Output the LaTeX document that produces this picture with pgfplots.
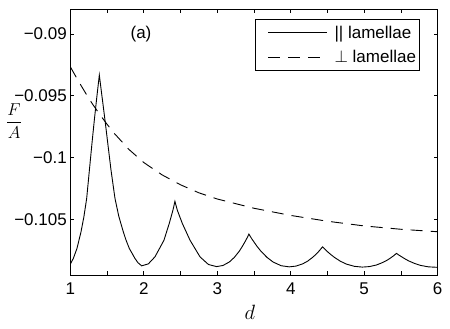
\documentclass[border=0pt]{standalone}
\usepackage{fontspec}
\setmainfont{Liberation Sans}
\usepackage{pgfplots}
\pgfplotsset{compat=1.18}
\usepackage{pgfplotstable}

% parallel lamellae: free energy per area vs film thickness d
\pgfplotstableread{
d F
1.000 -0.10862
1.041 -0.10816
1.091 -0.10735
1.146 -0.10600
1.185 -0.10479
1.223 -0.10330
1.260 -0.10100
1.295 -0.09885
1.327 -0.09696
1.360 -0.09515
1.395 -0.09332
1.430 -0.09498
1.472 -0.09696
1.510 -0.09884
1.554 -0.10101
1.608 -0.10330
1.660 -0.10475
1.721 -0.10600
1.760 -0.10670
1.803 -0.10735
1.880 -0.10816
1.920 -0.10850
1.971 -0.10876
2.062 -0.10860
2.152 -0.10803
2.220 -0.10729
2.275 -0.10668
2.347 -0.10532
2.397 -0.10425
2.424 -0.10354
2.456 -0.10425
2.524 -0.10532
2.629 -0.10668
2.765 -0.10803
2.880 -0.10865
2.990 -0.10882
3.078 -0.10873
3.166 -0.10844
3.233 -0.10807
3.299 -0.10758
3.343 -0.10717
3.387 -0.10671
3.409 -0.10646
3.431 -0.10619
3.458 -0.10646
3.486 -0.10671
3.541 -0.10718
3.596 -0.10759
3.678 -0.10808
3.760 -0.10845
3.870 -0.10875
3.980 -0.10884
4.071 -0.10878
4.162 -0.10860
4.230 -0.10838
4.298 -0.10807
4.343 -0.10783
4.389 -0.10754
4.411 -0.10738
4.434 -0.10722
4.461 -0.10739
4.488 -0.10755
4.542 -0.10783
4.596 -0.10808
4.677 -0.10839
4.759 -0.10862
4.867 -0.10880
4.975 -0.10886
5.068 -0.10882
5.161 -0.10870
5.231 -0.10854
5.301 -0.10834
5.347 -0.10817
5.394 -0.10797
5.417 -0.10786
5.440 -0.10775
5.467 -0.10787
5.494 -0.10797
5.548 -0.10817
5.602 -0.10835
5.683 -0.10856
5.764 -0.10872
5.872 -0.10884
6.000 -0.10888
}\parallel

% perpendicular lamellae
\pgfplotstableread{
d F
1.00 -0.09265
1.10 -0.09370
1.20 -0.09470
1.30 -0.09565
1.40 -0.09650
1.50 -0.09730
1.60 -0.09805
1.80 -0.09935
2.00 -0.10040
2.25 -0.10140
2.50 -0.10220
2.75 -0.10285
3.00 -0.10335
3.50 -0.10410
4.00 -0.10468
4.50 -0.10515
5.00 -0.10553
5.50 -0.10580
6.00 -0.10600
}\perpen

\begin{document}
\begin{tikzpicture}
\begin{axis}[
    scale only axis,
    width=367.4bp, height=265.7bp,
    xmin=1, xmax=6,
    ymin=-0.1095, ymax=-0.088,
    xtick={1,1.5,...,6},
    xticklabels={1,,2,,3,,4,,5,,6},
    ytick={-0.105,-0.1,-0.095,-0.09},
    yticklabels={−0.105,−0.1,−0.095,−0.09},
    scaled y ticks=false,
    tick align=inside,
    major tick length=3.7bp,
    every tick/.style={black, line width=0.7bp},
    axis line style={line width=0.7bp},
    tick label style={font=\fontsize{17bp}{20bp}\selectfont},
    xticklabel style={yshift=-4bp},
    xlabel={$d$},
    every axis x label/.style={at={(axis description cs:0.489,-0.141)}, anchor=center,
        font=\fontsize{20bp}{24bp}\selectfont},
    ylabel={$\displaystyle\frac{F}{A}$},
    every axis y label/.style={at={(axis description cs:-0.153,0.58)}, anchor=center,
        font=\fontsize{17bp}{20bp}\selectfont},
    legend style={at={(0.950,0.962)}, anchor=north east,
        font=\fontsize{17bp}{20bp}\selectfont, draw=black, line width=0.7bp,
        inner xsep=1bp, inner ysep=4bp, row sep=7bp,
        /tikz/every odd column/.append style={column sep=5bp}},
    legend cell align=left,
    legend image code/.code={\path (-11bp,0bp); \draw[#1] (0bp,0bp) -- (59bp,0bp);},
]
\addplot[black, line width=0.9bp] table[x=d, y=F] {\parallel};
\addlegendentry{|| lamellae}
\addplot[black, line width=0.9bp, dash pattern=on 12bp off 8bp] table[x=d, y=F] {\perpen};
\addlegendentry{$\perp$ lamellae}
\node[font=\fontsize{17bp}{20bp}\selectfont] at (axis cs:1.962,-0.09) {(a)};
\end{axis}
\pgfresetboundingbox
\path[use as bounding box] ([shift={(-70.3bp,-54bp)}]current axis.south west) rectangle ([shift={(12.3bp,9.3bp)}]current axis.north east);
\end{tikzpicture}
\end{document}
